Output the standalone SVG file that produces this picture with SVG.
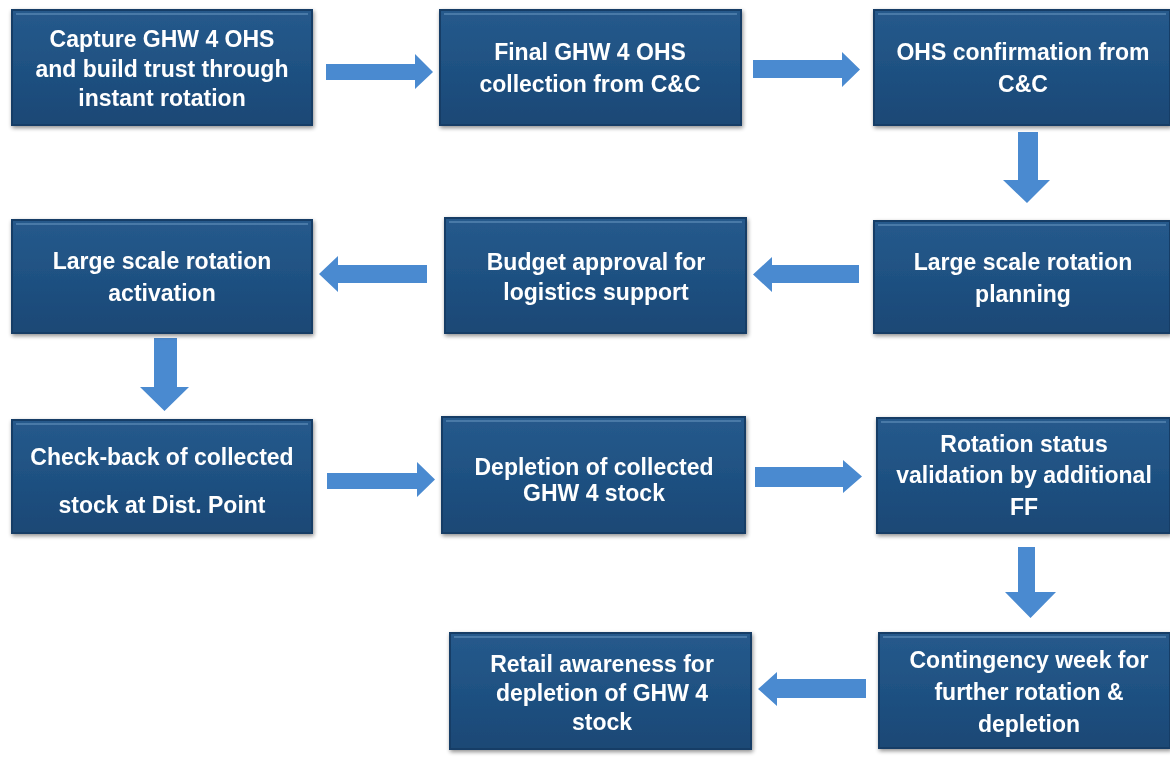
<svg xmlns="http://www.w3.org/2000/svg" width="1170" height="757" viewBox="0 0 1170 757">
<defs>
<linearGradient id="boxg" x1="0" y1="0" x2="0" y2="1">
<stop offset="0" stop-color="#265a8c"/>
<stop offset="0.5" stop-color="#1f5182"/>
<stop offset="1" stop-color="#1a4875"/>
</linearGradient>
<filter id="sh" x="-5%" y="-5%" width="110%" height="115%">
<feGaussianBlur in="SourceAlpha" stdDeviation="2"/>
<feOffset dx="1" dy="2"/>
<feComponentTransfer><feFuncA type="linear" slope="0.45"/></feComponentTransfer>
<feMerge><feMergeNode/><feMergeNode in="SourceGraphic"/></feMerge>
</filter>
</defs>
<style>
.box{fill:url(#boxg);stroke:#163e66;stroke-width:2}
.hl{fill:none;stroke:#5a87b3;stroke-width:2;stroke-opacity:0.7}
.t{font-family:"Liberation Sans",Arial,sans-serif;font-weight:bold;font-size:23px;fill:#ffffff;text-anchor:middle}
.arr{fill:#4a8ad0}
</style>
<rect width="1170" height="757" fill="#ffffff"/>
<g id="connectors">
<polygon class="arr" points="326,64 415,64 415,54 433,72 415,89 415,80 326,80"/>
<polygon class="arr" points="753,60 842,60 842,52 860,69.5 842,87 842,78 753,78"/>
<polygon class="arr" points="1018,132 1038,132 1038,180 1050,180 1027,203 1003,180 1018,180"/>
<polygon class="arr" points="859,265 772,265 772,257 753,274.5 772,292 772,283 859,283"/>
<polygon class="arr" points="427,265 338,265 338,256 319,274 338,292 338,283 427,283"/>
<polygon class="arr" points="154,338 177,338 177,387 189,387 164.5,411 140,387 154,387"/>
<polygon class="arr" points="327,473 417,473 417,462 435,479.5 417,497 417,489 327,489"/>
<polygon class="arr" points="755,467 843,467 843,460 862,476.5 843,493 843,487 755,487"/>
<polygon class="arr" points="1018,547 1035,547 1035,592 1056,592 1030.5,618 1005,592 1018,592"/>
<polygon class="arr" points="866,679 777,679 777,672 758,689 777,706 777,698 866,698"/>
</g>
<g id="n1" filter="url(#sh)">
<rect class="box" x="12" y="10" width="300" height="115"/>
<line class="hl" x1="16" y1="14" x2="308" y2="14"/>
<text class="t"><tspan x="162" y="47">Capture GHW 4 OHS</tspan><tspan x="162" y="77">and build trust through</tspan><tspan x="162" y="106">instant rotation</tspan></text>
</g>
<g id="n2" filter="url(#sh)">
<rect class="box" x="440" y="10" width="301" height="115"/>
<line class="hl" x1="444" y1="14" x2="737" y2="14"/>
<text class="t"><tspan x="590" y="60">Final GHW 4 OHS</tspan><tspan x="590" y="92">collection from C&amp;C</tspan></text>
</g>
<g id="n3" filter="url(#sh)">
<rect class="box" x="874" y="10" width="296" height="115"/>
<line class="hl" x1="878" y1="14" x2="1166" y2="14"/>
<text class="t"><tspan x="1023" y="60">OHS confirmation from</tspan><tspan x="1023" y="92">C&amp;C</tspan></text>
</g>
<g id="n4" filter="url(#sh)">
<rect class="box" x="874" y="221" width="296" height="112"/>
<line class="hl" x1="878" y1="225" x2="1166" y2="225"/>
<text class="t"><tspan x="1023" y="270">Large scale rotation</tspan><tspan x="1023" y="302">planning</tspan></text>
</g>
<g id="n5" filter="url(#sh)">
<rect class="box" x="445" y="218" width="301" height="115"/>
<line class="hl" x1="449" y1="222" x2="742" y2="222"/>
<text class="t"><tspan x="596" y="270">Budget approval for</tspan><tspan x="596" y="300">logistics support</tspan></text>
</g>
<g id="n6" filter="url(#sh)">
<rect class="box" x="12" y="220" width="300" height="113"/>
<line class="hl" x1="16" y1="224" x2="308" y2="224"/>
<text class="t"><tspan x="162" y="269">Large scale rotation</tspan><tspan x="162" y="301">activation</tspan></text>
</g>
<g id="n7" filter="url(#sh)">
<rect class="box" x="12" y="420" width="300" height="113"/>
<line class="hl" x1="16" y1="424" x2="308" y2="424"/>
<text class="t"><tspan x="162" y="465">Check-back of collected</tspan><tspan x="162" y="513">stock at Dist. Point</tspan></text>
</g>
<g id="n8" filter="url(#sh)">
<rect class="box" x="442" y="417" width="303" height="116"/>
<line class="hl" x1="446" y1="421" x2="741" y2="421"/>
<text class="t"><tspan x="594" y="475">Depletion of collected</tspan><tspan x="594" y="501">GHW 4 stock</tspan></text>
</g>
<g id="n9" filter="url(#sh)">
<rect class="box" x="877" y="418" width="293" height="115"/>
<line class="hl" x1="881" y1="422" x2="1166" y2="422"/>
<text class="t"><tspan x="1024" y="452">Rotation status</tspan><tspan x="1024" y="483">validation by additional</tspan><tspan x="1024" y="515">FF</tspan></text>
</g>
<g id="n10" filter="url(#sh)">
<rect class="box" x="879" y="633" width="291" height="115"/>
<line class="hl" x1="883" y1="637" x2="1166" y2="637"/>
<text class="t"><tspan x="1029" y="668">Contingency week for</tspan><tspan x="1029" y="700">further rotation &amp;</tspan><tspan x="1029" y="732">depletion</tspan></text>
</g>
<g id="n11" filter="url(#sh)">
<rect class="box" x="450" y="633" width="301" height="116"/>
<line class="hl" x1="454" y1="637" x2="747" y2="637"/>
<text class="t"><tspan x="602" y="672">Retail awareness for</tspan><tspan x="602" y="701">depletion of GHW 4</tspan><tspan x="602" y="730">stock</tspan></text>
</g>
</svg>
